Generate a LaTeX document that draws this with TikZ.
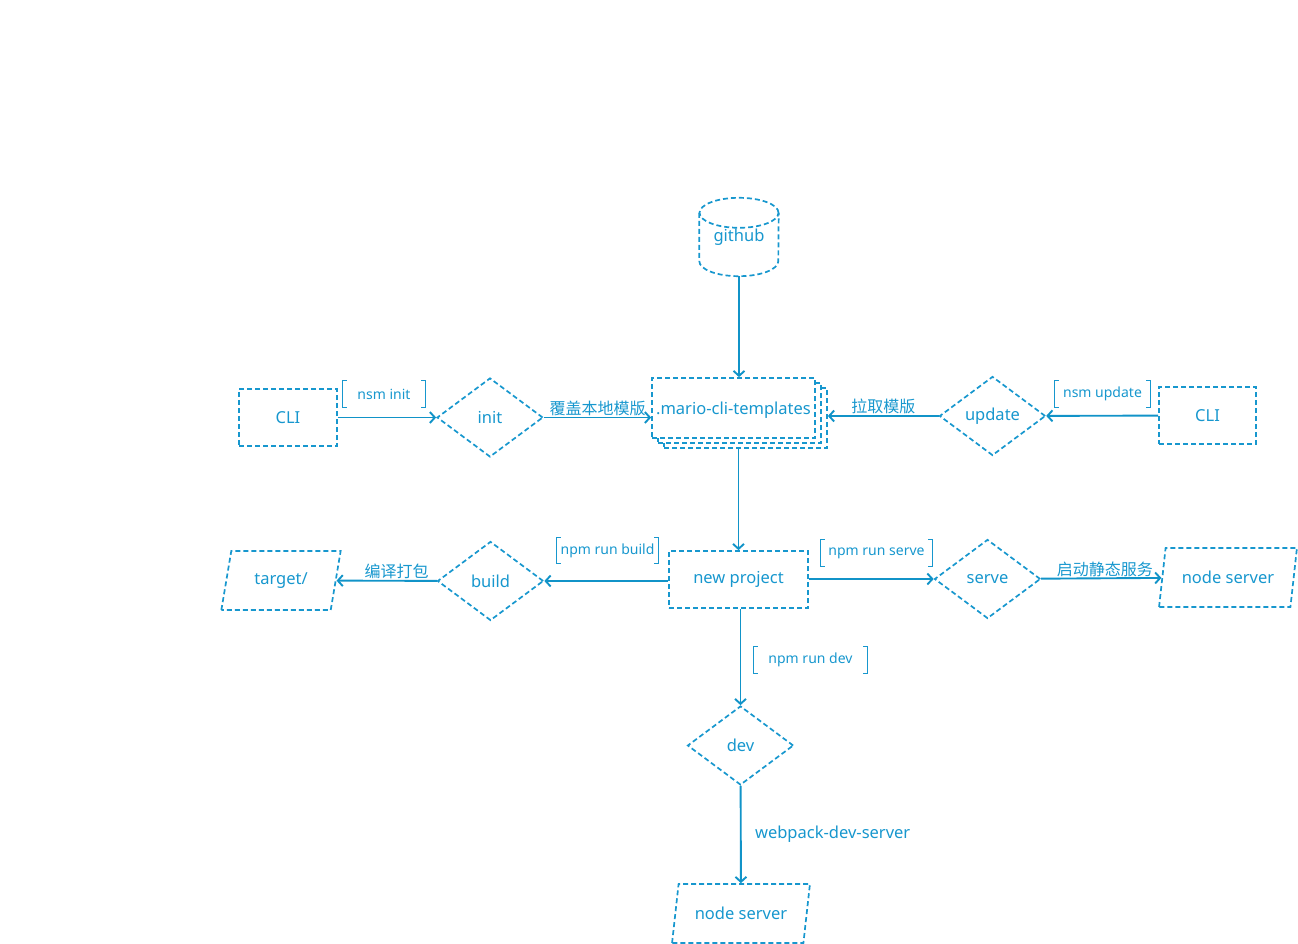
\documentclass[tikz,border=0pt]{standalone}
\usepackage{fontspec}
\setmainfont{Noto Sans}
\newfontfamily\cjk{Noto Sans CJK SC}
\usetikzlibrary{shapes.geometric,arrows.meta,calc}
\definecolor{mainblue}{HTML}{1797CE}
\definecolor{linkblue}{HTML}{1193C8}

\newcommand{\bracketnote}[1]{%
  \draw[brk] ([xshift=4pt]#1.north west) -- (#1.north west) -- (#1.south west) -- ([xshift=4pt]#1.south west);
  \draw[brk] ([xshift=-4pt]#1.north east) -- (#1.north east) -- (#1.south east) -- ([xshift=-4pt]#1.south east);}

\begin{document}
\begin{tikzpicture}[x=1pt,y=-1pt,
    every node/.style={text=mainblue,font=\fontsize{16.5}{19}\selectfont},
    dashbox/.style={draw=mainblue,dash pattern=on 5pt off 3pt,line width=1.7pt},
    rectbox/.style={dashbox,rectangle,minimum width=98pt,minimum height=57pt},
    docbox/.style={dashbox,rectangle,fill=white,minimum width=163pt,minimum height=60pt,inner sep=0pt},
    decision/.style={dashbox,diamond,inner sep=0pt,minimum width=106pt,minimum height=79pt},
    io/.style={dashbox,trapezium,trapezium left angle=75,trapezium right angle=105,
      trapezium stretches=true,minimum width=138pt,minimum height=59pt},
    arr/.style={draw=linkblue,line width=1.9pt,-{Straight Barb[length=5pt,width=11pt]}},
    note/.style={font=\fontsize{14}{16}\selectfont,inner sep=0pt,minimum height=26pt},
    lbl/.style={font=\cjk\fontsize{16}{18}\selectfont,inner sep=1pt},
    brk/.style={draw=mainblue,line width=0.8pt}]
  \useasboundingbox (0,0) rectangle (1298,944);

  % github
  \node (github) at (739,237) [minimum width=79pt,minimum height=78pt,inner sep=0pt] {github};
  \draw[dashbox] ($(github.north)+(0,15)$) ellipse [x radius=39.5pt,y radius=15pt];
  \draw[dashbox] ($(github.north west)+(0,15)$) -- ($(github.south west)+(0,-15)$)
    arc[start angle=180,end angle=360,x radius=39.5pt,y radius=15pt] -- ($(github.north east)+(0,15)$);

  % templates
  \node[docbox] (tpl3) at (745.5,418) {};
  \node[docbox] (tpl2) at (739.5,413) {};
  \node[docbox,text depth=-6pt] (tpl) at (733.5,408) {.mario-cli-templates};

  % top row
  \node[rectbox] (cliL) at (288,417.5) {CLI};
  \node[decision] (init) at (490,417.5) {init};
  \node[decision] (update) at (992.5,416) {update};
  \node[rectbox,minimum width=97pt] (cliR) at (1207.5,415.5) {CLI};
  \node[note,minimum width=82pt] (nInit) at (384,394) {nsm init};
  \node[note,minimum width=95pt] (nUpdate) at (1102.5,394) {nsm update};

  % middle row
  \node[rectbox,minimum width=139pt] (np) at (738.5,579.5) {new project};
  \node[decision] (build) at (490.5,581) {build};
  \node[io,minimum width=120pt] (target) at (281,580.5) {target/};
  \node[decision] (serve) at (987.5,579) {serve};
  \node[io] (nsR) at (1228,577.5) {node server};
  \node[note,minimum width=101pt] (nBuild) at (607.5,550.5) {npm run build};
  \node[note,minimum width=111pt] (nServe) at (876.5,553) {npm run serve};

  % bottom column
  \node[decision] (dev) at (740.5,745.5) {dev};
  \node[io] (nsB) at (741,913.5) {node server};
  \node[note,minimum width=113pt] (nDev) at (810.5,660) {npm run dev};

  \foreach \n in {nInit,nUpdate,nBuild,nServe,nDev} {\bracketnote{\n}}

  % connectors
  \draw[arr] (github.south) -- (github.south |- tpl.north);
  \draw[arr] (cliL) -- (init);
  \draw[arr] (init.east) -- node[lbl,above] (lInit) {覆盖本地模版} (init.east -| tpl.west);
  \draw[arr] (cliR) -- (update);
  \draw[arr] (update.west) -- node[lbl,above] (lUpdate) {拉取模版} (tpl3.east |- update.west);
  \draw[arr] (tpl3.south -| np.north) -- (np.north);
  \draw[arr] (np.west |- build.east) -- (build.east);
  \draw[arr] (build) -- node[lbl,above,pos=0.4] (lBuild) {编译打包} (target);
  \draw[arr] (np.east |- serve.west) -- (serve.west);
  \draw[arr] (serve) -- node[lbl,above,pos=0.53] (lServe) {启动静态服务} (nsR);
  \draw[arr] (np.south -| dev.north) -- (dev.north);
  \draw[arr] (dev) -- node[right=10pt] (lDev) {webpack-dev-server} (nsB);
\end{tikzpicture}
\end{document}
